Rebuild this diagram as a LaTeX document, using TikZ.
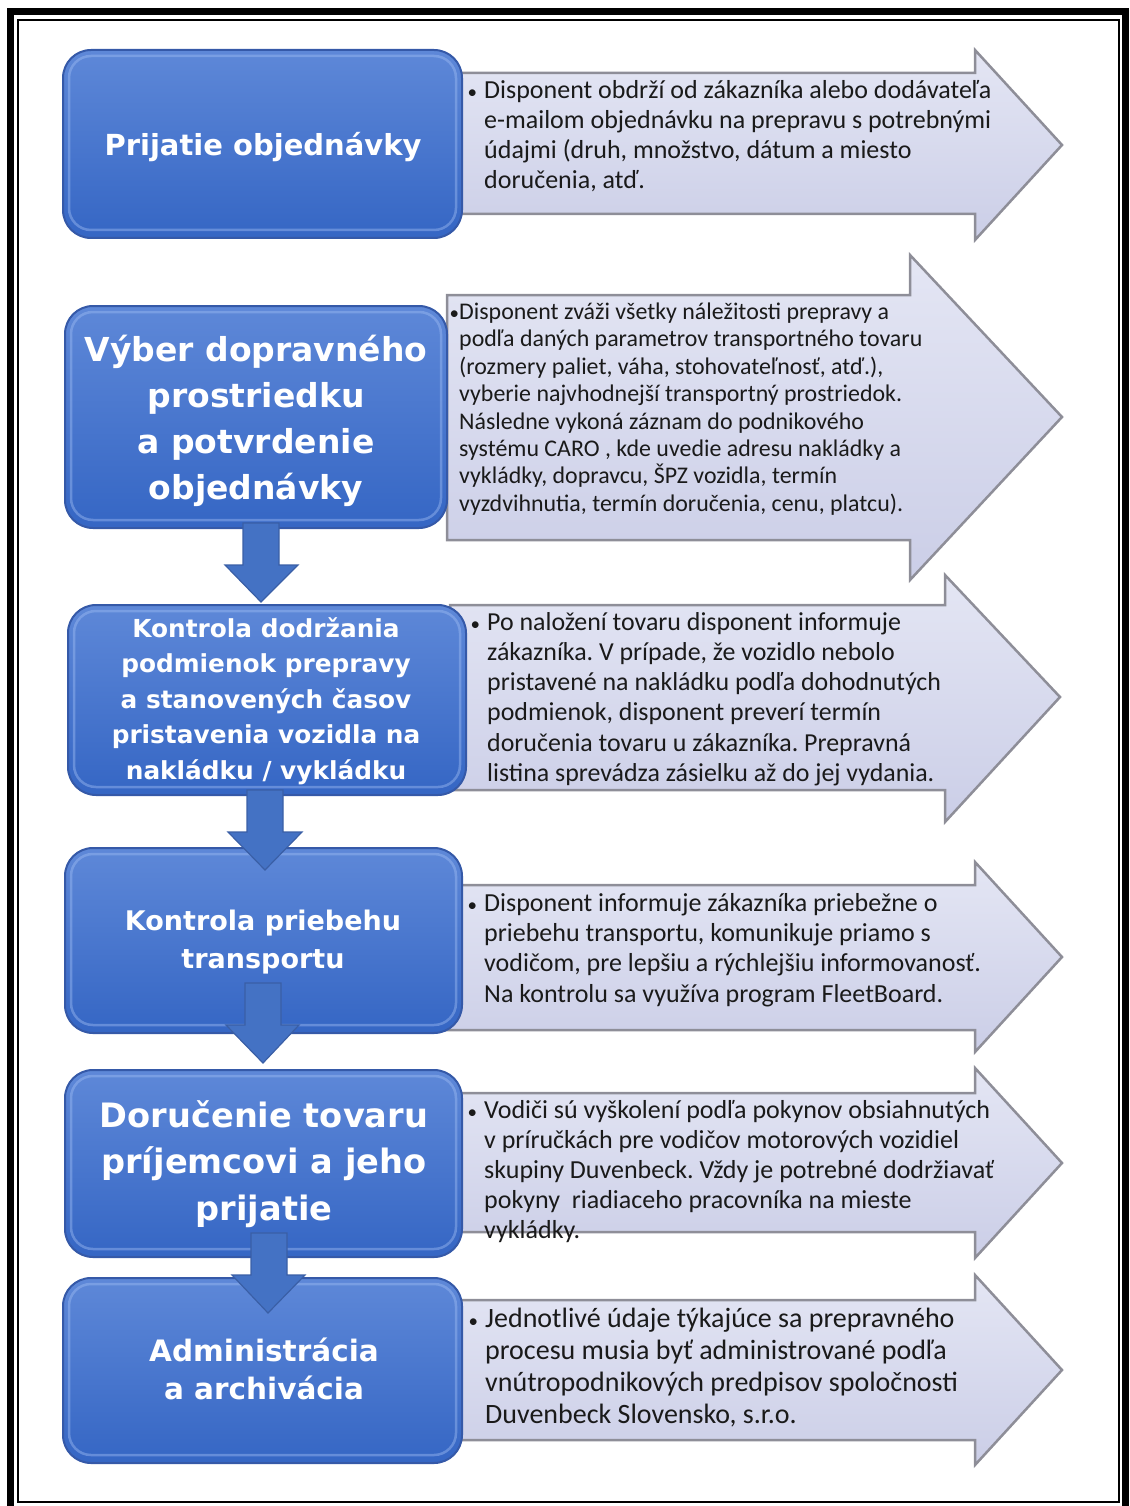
\documentclass[tikz,border=0pt]{standalone}
\usepackage{fontspec}
\setmainfont{Carlito}
\newfontfamily\titlefont{DejaVu Sans}
\frenchspacing
\newcommand\bul[1]{\llap{{\fontsize{19}{19}\selectfont •}\hspace{#1}}}
\definecolor{boxtop}{HTML}{5E88D8}
\definecolor{boxbot}{HTML}{3566C4}
\definecolor{boxedge}{HTML}{3559A8}
\definecolor{gloss}{HTML}{9DBBF2}
\definecolor{arrtop}{HTML}{E4E6F4}
\definecolor{arrbot}{HTML}{CBCEE7}
\definecolor{arredge}{HTML}{8E8E98}
\definecolor{downfill}{HTML}{4472C4}
\definecolor{downedge}{HTML}{3A5FA6}
\definecolor{desctext}{HTML}{1A1A1A}
\begin{document}
\begin{tikzpicture}[x=1pt,y=-1pt,
  bluebox/.style={rounded corners=28pt, top color=boxtop, bottom color=boxbot, draw=boxedge,
    line width=2pt, text=white, align=center, inner sep=0pt},
  glossline/.style={draw=gloss, line width=2.5pt, opacity=0.45, rounded corners=22pt},
  rarrow/.style={draw=arredge, line width=2.5pt, top color=arrtop, bottom color=arrbot, line join=miter},
  darrow/.style={fill=downfill, draw=downedge, line width=1.2pt, line join=miter},
  desc/.style={anchor=west, align=left, inner sep=0pt, text=desctext},
  ttl/.style 2 args={font=\titlefont\bfseries\fontsize{#1}{#2}\selectfont, text=white, align=center, inner sep=0pt}
]
\useasboundingbox (0,0) rectangle (1129,1506);
% frame
\draw[line width=7pt] (10.5,12) rectangle (1125.5,1520);
\draw[line width=2pt] (18,20) rectangle (1119,1502);

% right arrows
\draw[rarrow] (440,73) -- (975,73) -- (975,50) -- (1062,145) -- (975,240) -- (975,214) -- (440,214) -- cycle;
\draw[rarrow] (447,295) -- (910,295) -- (910,255) -- (1062,417) -- (910,580) -- (910,540) -- (447,540) -- cycle;
\draw[rarrow] (450,605) -- (945,605) -- (945,575) -- (1060,697) -- (945,822) -- (945,790) -- (450,790) -- cycle;
\draw[rarrow] (440,885) -- (975,885) -- (975,862) -- (1062,957) -- (975,1052) -- (975,1030) -- (440,1030) -- cycle;
\draw[rarrow] (440,1093) -- (975,1093) -- (975,1068) -- (1062,1163) -- (975,1258) -- (975,1232) -- (440,1232) -- cycle;
\draw[rarrow] (440,1300) -- (975,1300) -- (975,1275) -- (1062,1370) -- (975,1465) -- (975,1440) -- (440,1440) -- cycle;

% blue boxes
\node[bluebox, minimum width=399, minimum height=188] (b1) at (262.5,144) {};
\node[bluebox, minimum width=382, minimum height=222] (b2) at (256,417) {};
\node[bluebox, minimum width=398, minimum height=190] (b3) at (267,700) {};
\node[bluebox, minimum width=397, minimum height=185] (b4) at (263.5,940.5) {};
\node[bluebox, minimum width=397, minimum height=187] (b5) at (263.5,1163.5) {};
\node[bluebox, minimum width=399, minimum height=185] (b6) at (262.5,1370.5) {};
\foreach \b in {b1,b2,b3,b4,b5,b6}{
  \draw[glossline] ([shift={(7,7)}]\b.north west) rectangle ([shift={(-7,-9)}]\b.south east);
}

% titles
\node[ttl={29}{35}] (t1) at (263,147) {Prijatie objednávky};
\node[ttl={33}{46}] (t2) at (256,421) {Výber dopravného\\prostriedku\\a potvrdenie\\objednávky};
\node[ttl={24.8}{35.5}] (t3) at (266,701) {Kontrola dodržania\\podmienok prepravy\\a stanovených časov\\pristavenia vozidla na\\nakládku / vykládku};
\node[ttl={27}{38}] (t4) at (263,942) {Kontrola priebehu\\transportu};
\node[ttl={33.6}{46.5}] (t5) at (264,1164) {Doručenie tovaru\\príjemcovi a jeho\\prijatie};
\node[ttl={29.5}{38.5}] (t6) at (264,1369) {Administrácia\\a archivácia};

% down arrows
\draw[darrow] (243,523) -- (279,523) -- (279,565) -- (298,565) -- (261,602) -- (225,565) -- (243,565) -- cycle;
\draw[darrow] (247,790) -- (283,790) -- (283,832) -- (302,832) -- (265,870) -- (228,832) -- (247,832) -- cycle;
\draw[darrow] (245,983) -- (281,983) -- (281,1025) -- (299,1025) -- (263,1063) -- (226,1025) -- (245,1025) -- cycle;
\draw[darrow] (251,1233) -- (287,1233) -- (287,1275) -- (305,1275) -- (268,1313) -- (232,1275) -- (251,1275) -- cycle;

% descriptions
\node[desc, font=\fontsize{26}{30}\selectfont] (d1) at (484,136) {\bul{7pt}Disponent obdrží od zákazníka alebo dodávateľa\\e-mailom objednávku na prepravu s potrebnými\\údajmi (druh, množstvo, dátum a miesto\\doručenia, atď.};
\node[desc, font=\fontsize{23.9}{27.4}\selectfont] (d2) at (459,409) {\bul{0pt}Disponent zváži všetky náležitosti prepravy a\\podľa daných parametrov transportného tovaru\\(rozmery paliet, váha, stohovateľnosť, atď.),\\vyberie najvhodnejší transportný prostriedok.\\Následne vykoná záznam do podnikového\\systému CARO , kde uvedie adresu nakládky a\\vykládky, dopravcu, ŠPZ vozidla, termín\\vyzdvihnutia, termín doručenia, cenu, platcu).};
\node[desc, font=\fontsize{25.9}{30.2}\selectfont] (d3) at (487,699) {\bul{7pt}Po naložení tovaru disponent informuje\\zákazníka. V prípade, že vozidlo nebolo\\pristavené na nakládku podľa dohodnutých\\podmienok, disponent preverí termín\\doručenia tovaru u zákazníka. Prepravná\\listina sprevádza zásielku až do jej vydania.};
\node[desc, font=\fontsize{26}{30.3}\selectfont] (d4) at (484,950) {\bul{7pt}Disponent informuje zákazníka priebežne o\\priebehu transportu, komunikuje priamo s\\vodičom, pre lepšiu a rýchlejšiu informovanosť.\\Na kontrolu sa využíva program FleetBoard.};
\node[desc, font=\fontsize{26}{30}\selectfont] (d5) at (484,1172) {\bul{7pt}Vodiči sú vyškolení podľa pokynov obsiahnutých\\v príručkách pre vodičov motorových vozidiel\\skupiny Duvenbeck. Vždy je potrebné dodržiavať\\pokyny \ riadiaceho pracovníka na mieste\\vykládky.};
\node[desc, font=\fontsize{28}{32}\selectfont] (d6) at (485,1368) {\bul{7pt}Jednotlivé údaje týkajúce sa prepravného\\procesu musia byť administrované podľa\\vnútropodnikových predpisov spoločnosti\\Duvenbeck Slovensko, s.r.o.};
\end{tikzpicture}
\end{document}
